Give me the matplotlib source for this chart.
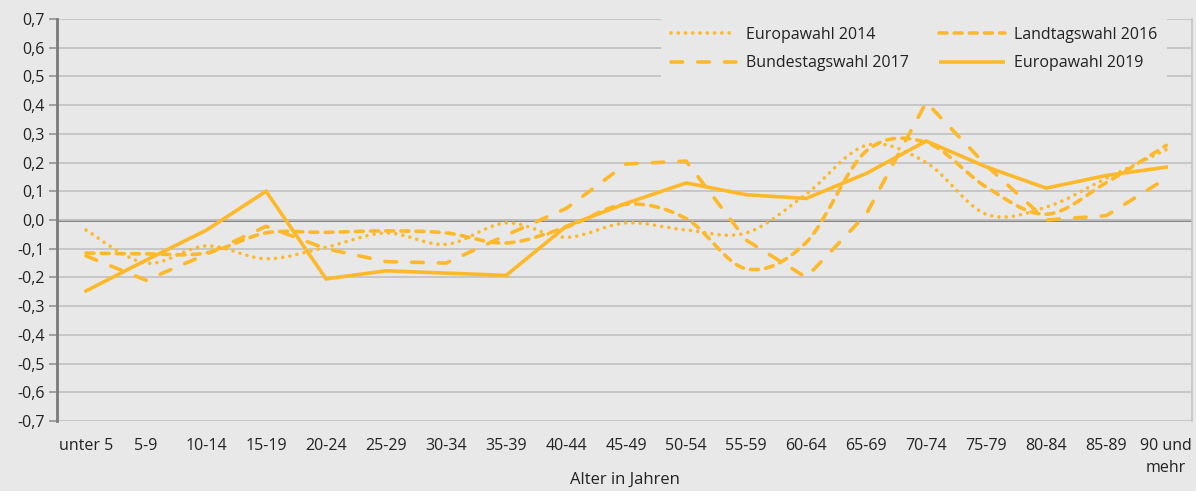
import numpy as np
import matplotlib
matplotlib.use("Agg")
import matplotlib.pyplot as plt
from matplotlib.path import Path
from matplotlib.patches import PathPatch
from matplotlib.lines import Line2D

plt.rcParams['font.family'] = ['Open Sans', 'DejaVu Sans']

ages = ["unter 5", "5-9", "10-14", "15-19", "20-24", "25-29", "30-34", "35-39",
        "40-44", "45-49", "50-54", "55-59", "60-64", "65-69", "70-74", "75-79",
        "80-84", "85-89", "90 und\nmehr"]

europa_2014 = [-0.035, -0.15, -0.09, -0.135, -0.095, -0.045, -0.085, -0.01, -0.06,
               -0.01, -0.035, -0.045, 0.09, 0.26, 0.20, 0.02, 0.045, 0.145, 0.245]
landtag_2016 = [-0.115, -0.118, -0.115, -0.045, -0.043, -0.038, -0.045, -0.08, -0.025,
                0.055, 0.005, -0.17, -0.078, 0.24, 0.27, 0.115, 0.02, 0.13, 0.26]
bundestag_2017 = [-0.125, -0.21, -0.12, -0.022, -0.10, -0.145, -0.15, -0.053, 0.04,
                  0.195, 0.205, -0.07, -0.20, 0.02, 0.41, 0.19, 0.0, 0.015, 0.145]
europa_2019 = [-0.247, -0.14, -0.036, 0.10, -0.205, -0.177, -0.185, -0.193, -0.022,
               0.058, 0.129, 0.088, 0.075, 0.162, 0.275, 0.185, 0.111, 0.155, 0.184]

yticks = np.round(np.arange(-0.7, 0.71, 0.1), 1)

gold = "#FDB92A"
bg = "#E8E8E8"
lw = 2.6


def smooth_path(xs, ys):
    # Excel-like smoothed line: cubic Bezier segments through the points
    pts = np.column_stack([xs, ys])
    n = len(pts)
    verts = [pts[0]]
    codes = [Path.MOVETO]
    for i in range(n - 1):
        p0 = pts[max(i - 1, 0)]
        p1 = pts[i]
        p2 = pts[i + 1]
        p3 = pts[min(i + 2, n - 1)]
        verts += [p1 + (p2 - p0) / 6, p2 - (p3 - p1) / 6, p2]
        codes += [Path.CURVE4] * 3
    return Path(verts, codes)


fig = plt.figure(figsize=(11.96, 4.91), dpi=100, facecolor=bg)
ax = fig.add_axes([0.0477, 0.1426, 0.949, 0.8187], facecolor=bg)

x = np.arange(len(ages))

styles = {
    "Europawahl 2014": (europa_2014, (0, (0.01, 2.0)), True),
    "Landtagswahl 2016": (landtag_2016, (0, (2.2, 2.0)), True),
    "Bundestagswahl 2017": (bundestag_2017, (0, (3.2, 4.2)), False),
    "Europawahl 2019": (europa_2019, "-", False),
}

handles = {}
for name, (vals, ls, smooth) in styles.items():
    if smooth:
        patch = PathPatch(smooth_path(x, vals), fill=False, edgecolor=gold,
                          linewidth=lw, linestyle=ls, capstyle="round", zorder=3)
        ax.add_patch(patch)
    else:
        ax.plot(x, vals, color=gold, linewidth=lw, linestyle=ls, zorder=3,
                dash_capstyle="round", solid_joinstyle="miter")
    handles[name] = Line2D([], [], color=gold, linewidth=lw, linestyle=ls,
                           dash_capstyle="round", solid_capstyle="butt")

ax.set_xlim(-0.483, 18.43)
ax.set_ylim(-0.7, 0.7)
ax.set_yticks(yticks)
ax.set_yticklabels([f"{v:.1f}".replace(".", ",").replace("-0,0", "0,0") for v in yticks])
ax.set_xticks(x)
ax.set_xticklabels(ages)
for lab in ax.get_xticklabels():
    lab.set_linespacing(1.5)

ax.grid(axis="y", color="#C4C4C4", linewidth=1.3, zorder=0)
ax.axhline(0, color="#7A7A7A", linewidth=2.0, zorder=1)
for s in ["top", "bottom"]:
    ax.spines[s].set_visible(False)
ax.spines["left"].set_color("#7A7A7A")
ax.spines["left"].set_linewidth(2.0)
ax.spines["right"].set_color("#C4C4C4")
ax.spines["right"].set_linewidth(1.2)

ax.tick_params(axis="y", length=6, width=1.3, color="#9A9A9A", labelsize=11.5,
               labelcolor="#222222", pad=3)
ax.tick_params(axis="x", length=0, labelsize=11.5, labelcolor="#222222", pad=12)

ax.set_xlabel("Alter in Jahren", fontsize=12, color="#222222", va="center")
ax.xaxis.set_label_coords(0.5, -0.147)

order = ["Europawahl 2014", "Bundestagswahl 2017", "Landtagswahl 2016", "Europawahl 2019"]
leg = ax.legend([handles[k] for k in order], order, ncol=2, loc="upper right",
                bbox_to_anchor=(0.985, 1.025), fontsize=11.5, frameon=True,
                facecolor=bg, edgecolor=bg, framealpha=1.0, handlelength=4.1,
                handletextpad=0.6, columnspacing=1.9, labelspacing=0.8,
                borderpad=0.6)
leg.get_frame().set_linewidth(0)
for t in leg.get_texts():
    t.set_color("#222222")

fig.savefig("out.png", dpi=100, facecolor=bg)
